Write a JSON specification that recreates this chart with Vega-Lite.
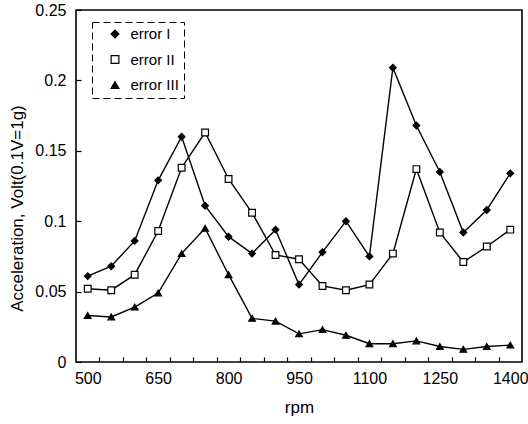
{
  "$schema": "https://vega.github.io/schema/vega-lite/v6.json",
  "width": 446,
  "height": 352,
  "autosize": {"type": "none"},
  "padding": {"left": 76, "top": 10, "right": 6, "bottom": 62},
  "background": "white",
  "config": {
    "font": "Liberation Sans",
    "view": {"stroke": "black", "strokeWidth": 1.6},
    "axis": {"domainColor": "black", "tickColor": "black", "labelColor": "black", "titleColor": "black", "labelFont": "Liberation Sans", "titleFont": "Liberation Sans", "labelFontSize": 16, "titleFontSize": 17, "titleFontWeight": "normal", "grid": false, "zindex": 1}
  },
  "data": {"values": [
    {"rpm": 500, "series": "error I", "v": 0.061},
    {"rpm": 550, "series": "error I", "v": 0.068},
    {"rpm": 600, "series": "error I", "v": 0.086},
    {"rpm": 650, "series": "error I", "v": 0.129},
    {"rpm": 700, "series": "error I", "v": 0.160},
    {"rpm": 750, "series": "error I", "v": 0.111},
    {"rpm": 800, "series": "error I", "v": 0.089},
    {"rpm": 850, "series": "error I", "v": 0.077},
    {"rpm": 900, "series": "error I", "v": 0.094},
    {"rpm": 950, "series": "error I", "v": 0.055},
    {"rpm": 1000, "series": "error I", "v": 0.078},
    {"rpm": 1050, "series": "error I", "v": 0.100},
    {"rpm": 1100, "series": "error I", "v": 0.075},
    {"rpm": 1150, "series": "error I", "v": 0.209},
    {"rpm": 1200, "series": "error I", "v": 0.168},
    {"rpm": 1250, "series": "error I", "v": 0.135},
    {"rpm": 1300, "series": "error I", "v": 0.092},
    {"rpm": 1350, "series": "error I", "v": 0.108},
    {"rpm": 1400, "series": "error I", "v": 0.134},
    {"rpm": 500, "series": "error II", "v": 0.052},
    {"rpm": 550, "series": "error II", "v": 0.051},
    {"rpm": 600, "series": "error II", "v": 0.062},
    {"rpm": 650, "series": "error II", "v": 0.093},
    {"rpm": 700, "series": "error II", "v": 0.138},
    {"rpm": 750, "series": "error II", "v": 0.163},
    {"rpm": 800, "series": "error II", "v": 0.130},
    {"rpm": 850, "series": "error II", "v": 0.106},
    {"rpm": 900, "series": "error II", "v": 0.076},
    {"rpm": 950, "series": "error II", "v": 0.073},
    {"rpm": 1000, "series": "error II", "v": 0.054},
    {"rpm": 1050, "series": "error II", "v": 0.051},
    {"rpm": 1100, "series": "error II", "v": 0.055},
    {"rpm": 1150, "series": "error II", "v": 0.077},
    {"rpm": 1200, "series": "error II", "v": 0.137},
    {"rpm": 1250, "series": "error II", "v": 0.092},
    {"rpm": 1300, "series": "error II", "v": 0.071},
    {"rpm": 1350, "series": "error II", "v": 0.082},
    {"rpm": 1400, "series": "error II", "v": 0.094},
    {"rpm": 500, "series": "error III", "v": 0.033},
    {"rpm": 550, "series": "error III", "v": 0.032},
    {"rpm": 600, "series": "error III", "v": 0.039},
    {"rpm": 650, "series": "error III", "v": 0.049},
    {"rpm": 700, "series": "error III", "v": 0.077},
    {"rpm": 750, "series": "error III", "v": 0.095},
    {"rpm": 800, "series": "error III", "v": 0.062},
    {"rpm": 850, "series": "error III", "v": 0.031},
    {"rpm": 900, "series": "error III", "v": 0.029},
    {"rpm": 950, "series": "error III", "v": 0.020},
    {"rpm": 1000, "series": "error III", "v": 0.023},
    {"rpm": 1050, "series": "error III", "v": 0.019},
    {"rpm": 1100, "series": "error III", "v": 0.013},
    {"rpm": 1150, "series": "error III", "v": 0.013},
    {"rpm": 1200, "series": "error III", "v": 0.015},
    {"rpm": 1250, "series": "error III", "v": 0.011},
    {"rpm": 1300, "series": "error III", "v": 0.009},
    {"rpm": 1350, "series": "error III", "v": 0.011},
    {"rpm": 1400, "series": "error III", "v": 0.012}
  ]},
  "encoding": {
    "x": {"field": "rpm", "type": "quantitative", "title": "rpm",
      "scale": {"domain": [475, 1425], "nice": false, "zero": false},
      "axis": {
        "values": [500,525,550,575,600,625,650,675,700,725,750,775,800,825,850,875,900,925,950,975,1000,1025,1050,1075,1100,1125,1150,1175,1200,1225,1250,1275,1300,1325,1350,1375,1400],
        "format": "d",
        "labelExpr": "(datum.value - 500) % 150 == 0 ? datum.label : ''",
        "labelOverlap": false,
        "offset": -5,
        "tickSize": 5,
        "tickWidth": 1.2,
        "tickOpacity": {"condition": {"test": "(datum.value - 500) % 50 == 25", "value": 1}, "value": 0},
        "labelPadding": 8,
        "titlePadding": 13,
        "domain": false
      }},
    "y": {"field": "v", "type": "quantitative", "title": "Acceleration, Volt(0.1V=1g)",
      "scale": {"domain": [0, 0.25], "nice": false},
      "axis": {"values": [0, 0.05, 0.1, 0.15, 0.2, 0.25], "format": "~g", "offset": -5, "tickSize": 5, "tickWidth": 1.2, "labelPadding": 10, "titleX": -55, "titleY": 198, "domain": false}}
  },
  "layer": [
    {"mark": {"type": "line", "color": "black", "strokeWidth": 1.4},
     "encoding": {"detail": {"field": "series"}}},
    {"mark": {"type": "point", "filled": true, "stroke": "black", "strokeWidth": 1.2, "opacity": 1, "size": 45},
     "encoding": {
       "shape": {"field": "series", "title": null,
         "scale": {"domain": ["error I", "error II", "error III"], "range": ["diamond", "square", "triangle-up"]},
         "legend": {
           "orient": "none", "legendX": 16, "legendY": 12,
           "symbolSize": 60, "rowPadding": 9.5, "padding": 4.5,
           "symbolOffset": 11, "symbolStrokeColor": "black", "symbolStrokeWidth": 1.2,
           "labelFont": "Liberation Sans", "labelFontSize": 15, "labelColor": "black", "labelOffset": 8,
           "strokeColor": "black", "fillColor": "white",
           "encoding": {
             "legend": {"strokeDash": {"value": [7, 4]}, "strokeWidth": {"value": 1}},
             "symbols": {
               "stroke": {"value": "black"},
               "strokeWidth": {"value": 1.2},
               "opacity": {"value": 1}
             }
           }
         }},
       "fill": {"field": "series", "legend": null,
         "scale": {"domain": ["error I", "error II", "error III"], "range": ["black", "white", "black"]}}
     }}
  ]
}
